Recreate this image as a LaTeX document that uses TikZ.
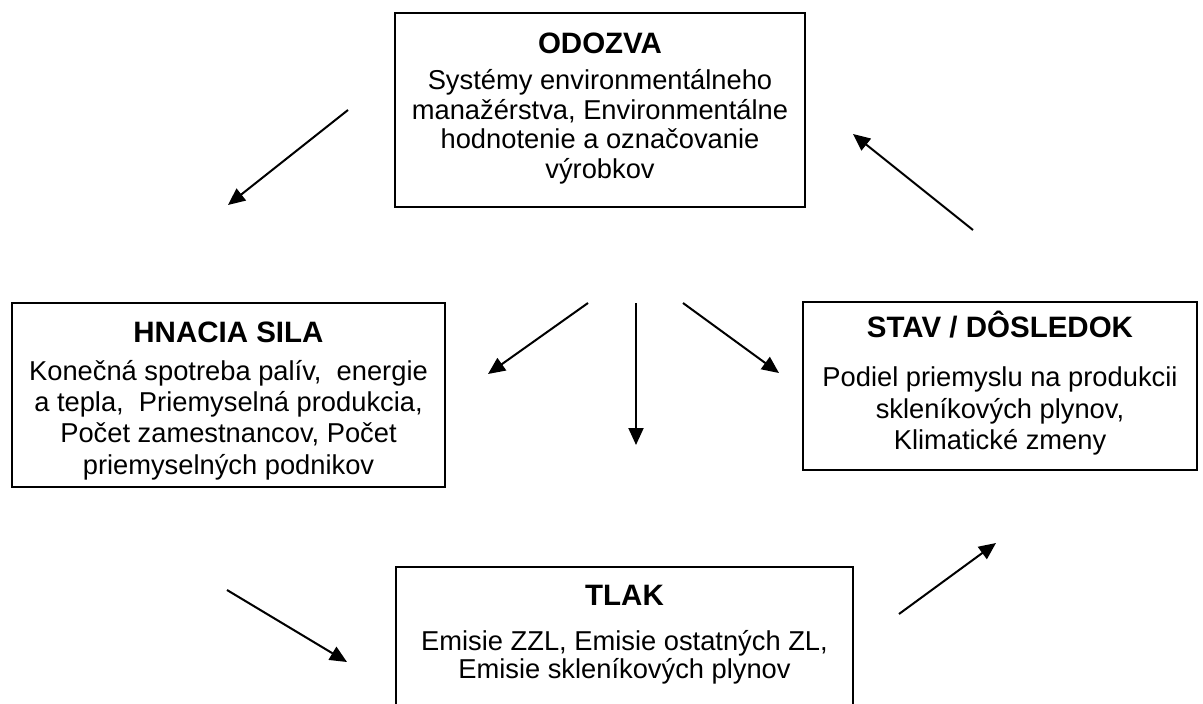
\documentclass[tikz,border=0pt]{standalone}
\usepackage{fontspec}
\setmainfont{Liberation Sans}
\usepackage{tikz}
\usetikzlibrary{arrows.meta}

\tikzset{
  ramcek/.style={draw,line width=1.8pt,inner sep=0pt},
  nadpis/.style={font=\fontsize{29.5}{34}\selectfont\bfseries,inner sep=0pt,text height=21.1pt,text depth=0pt},
  telo/.style={font=\fontsize{27.3}{31.3}\selectfont,align=center,inner sep=0pt},
  sipka/.style={-{Triangle[length=17pt,width=15pt]},line width=2pt}
}

\begin{document}
\begin{tikzpicture}[x=1pt,y=-1pt]
        % plocha obrazka
        \useasboundingbox (0,0) rectangle (1203,704);
        \clip (0,0) rectangle (1203,704);

        % ramceky
        \node[ramcek,minimum width=410pt,minimum height=194pt] (odozva) at (600,110) {};
        \node[ramcek,minimum width=433pt,minimum height=184pt] (hnacia) at (228.5,395) {};
        \node[ramcek,minimum width=394pt,minimum height=168pt] (stav) at (1000,386) {};
        \node[ramcek,minimum width=457pt,minimum height=200pt] (tlak) at (624.5,667) {};

        % nadpisy
        \node[nadpis] (odozvaN) at (600,43) {ODOZVA};
        \node[nadpis] (hnaciaN) at (228.5,332) {HNACIA SILA};
        \node[nadpis] (stavN) at (1000,327) {STAV / DÔSLEDOK};
        \node[nadpis] (tlakN) at (624.5,595) {TLAK};

        % texty
        \node[telo,font=\fontsize{27.3}{29.5}\selectfont] (odozvaT) at (600,127) {Systémy environmentálneho\\manažérstva, Environmentálne\\hodnotenie a označovanie\\výrobkov};
        \node[telo] (hnaciaT) at (228.5,420) {Konečná spotreba palív,\ \ energie\\a tepla,\ \ Priemyselná produkcia,\\Počet zamestnancov, Počet\\priemyselných podnikov};
        \node[telo] (stavT) at (1000,411) {Podiel priemyslu na produkcii\\skleníkových plynov,\\Klimatické zmeny};
        \node[telo,font=\fontsize{27.3}{28}\selectfont] (tlakT) at (624.5,657) {Emisie ZZL, Emisie ostatných ZL,\\Emisie skleníkových plynov};

        % konce sipok
        \coordinate (s1a) at (348,110);  \coordinate (s1b) at (228,205);
        \coordinate (s2a) at (973,230);  \coordinate (s2b) at (853,134);
        \coordinate (s3a) at (588,303);  \coordinate (s3b) at (488,374);
        \coordinate (s4a) at (636,303);  \coordinate (s4b) at (636,445);
        \coordinate (s5a) at (683,303);  \coordinate (s5b) at (779,373);
        \coordinate (s6a) at (227,590);  \coordinate (s6b) at (347,662);
        \coordinate (s7a) at (899,614);  \coordinate (s7b) at (996,543);

        % sipky
        \draw[sipka] (s1a) -- (s1b);
        \draw[sipka] (s2a) -- (s2b);
        \draw[sipka] (s3a) -- (s3b);
        \draw[sipka] (s4a) -- (s4b);
        \draw[sipka] (s5a) -- (s5b);
        \draw[sipka] (s6a) -- (s6b);
        \draw[sipka] (s7a) -- (s7b);
    \end{tikzpicture}
\end{document}
